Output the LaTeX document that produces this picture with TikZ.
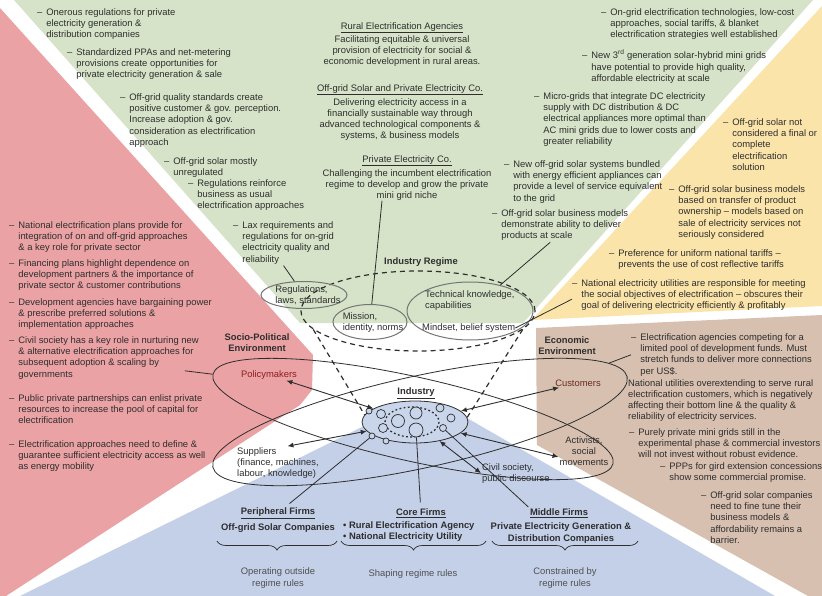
\documentclass[tikz,border=0pt]{standalone}
\usepackage{fontspec}
\setmainfont{Liberation Sans}
\usetikzlibrary{shapes.geometric,arrows.meta,decorations.pathreplacing}

\definecolor{ink}{HTML}{2E2E2E}
\definecolor{rulegray}{HTML}{505050}
\definecolor{ovalgray}{HTML}{757575}
\definecolor{greenbg}{HTML}{D6E3C8}
\definecolor{redbg}{HTML}{EBA2A4}
\definecolor{yellowbg}{HTML}{FBE4A9}
\definecolor{brownbg}{HTML}{D7C0B0}
\definecolor{bluebg}{HTML}{C4D0E8}
\definecolor{indfill}{HTML}{C9D5EB}
\definecolor{polred}{HTML}{8C1E1E}
\definecolor{cusred}{HTML}{6B2B1F}

\newcommand{\dashitem}[1]{\begin{tabular}[t]{@{}l@{\hspace{4pt}}l@{}}--&\begin{tabular}[t]{@{}l@{}}#1\end{tabular}\end{tabular}}

\begin{document}
\begin{tikzpicture}[x=1pt,y=-1pt,
    note/.style={anchor=north west,inner sep=0pt,text=ink,font=\fontsize{9.4}{11.3}\selectfont},
    desc/.style={anchor=north,inner sep=0pt,align=center,text=ink,font=\fontsize{9.4}{11.3}\selectfont},
    head/.style={inner sep=0pt,align=center,text=ink,font=\fontsize{9.4}{11.3}\selectfont\bfseries},
    actor/.style={inner sep=1pt,text=ink,font=\fontsize{9.4}{11.3}\selectfont},
    firm/.style={inner sep=0pt,text=ink,font=\fontsize{9.4}{11.3}\selectfont\bfseries},
    rule/.style={inner sep=0pt,align=center,text=rulegray,font=\fontsize{9.4}{11.3}\selectfont},
    oval/.style={ellipse,draw=ovalgray,line width=1pt,inner sep=0pt},
    big/.style={ellipse,draw=ink,line width=0.8pt,inner sep=0pt},
    dot/.style={circle,draw=ink,fill=indfill,line width=0.7pt,inner sep=0pt},
    link/.style={draw=ink,line width=0.8pt},
    biarrow/.style={{Latex[length=6pt,width=5pt]}-{Latex[length=6pt,width=5pt]},draw=ink,line width=0.9pt},
    cone/.style={draw=ink,dash pattern=on 5pt off 4pt,line width=1.2pt},
    curly/.style={draw=ink,line width=0.7pt,decorate,decoration={brace,mirror,amplitude=9pt}}]

\useasboundingbox (0,0) rectangle (822,596);
\fill[white] (0,0) rectangle (822,596);

\fill[greenbg] (14,0) -- (813,0) -- (523,323) -- (300,323) -- cycle;
\fill[redbg] (0,8) -- (313,355) -- (312,390) -- (300,405) -- (6,596) -- (0,596) -- cycle;
\fill[yellowbg] (822,6) -- (822,306) -- (532,320) -- cycle;
\fill[brownbg] (536,328) -- (822,315) -- (822,596) -- (808,596) -- (537,445) -- cycle;
\fill[bluebg] (20,596) -- (362,427) -- (415,410) -- (467,418) -- (775,596) -- cycle;

% left side
\node[note] (natp) at (9,220) {\dashitem{National electrification plans provide for\\integration of on and off-grid approaches\\\& a key role for private sector}};
\node[note] (fin) at (9,258) {\dashitem{Financing plans highlight dependence on\\development partners \& the importance of\\private sector \& customer contributions}};
\node[note] (dev) at (9,297) {\dashitem{Development agencies have bargaining power\\\& prescribe preferred solutions \&\\implementation approaches}};
\node[note] (civr) at (9,335) {\dashitem{Civil society has a key role in nurturing new\\\& alternative electrification approaches for\\subsequent adoption \& scaling by\\governments}};
\node[note] (ppp) at (9,393) {\dashitem{Public private partnerships can enlist private\\resources to increase the pool of capital for\\electrification}};
\node[note] (eapp) at (9,439) {\dashitem{Electrification approaches need to define \&\\guarantee sufficient electricity access as well\\as energy mobility}};

% regime, left steps
\node[note] (oner) at (37,7) {\dashitem{Onerous regulations for private\\electricity generation \&\\distribution companies}};
\node[note] (ppas) at (67,47) {\dashitem{Standardized PPAs and net-metering\\provisions create opportunities for\\private electricity generation \& sale}};
\node[note] (qual) at (120,92) {\dashitem{Off-grid quality standards create\\positive customer \& gov. perception.\\Increase adoption \& gov.\\consideration as electrification\\approach}};
\node[note] (unreg) at (164,156) {\dashitem{Off-grid solar mostly\\unregulated}};
\node[note] (reinf) at (188,178) {\dashitem{Regulations reinforce\\business as usual\\electrification approaches}};
\node[note] (lax) at (233,220) {\dashitem{Lax requirements and\\regulations for on-grid\\electricity quality and\\reliability}};

% regime, middle
\node[desc] (reaT) at (402,22) {\underline{Rural Electrification Agencies}};
\node[desc] (reaD) at (402,35) {Facilitating equitable \& universal\\provision of electricity for social \&\\economic development in rural areas.};
\node[desc] (ogsT) at (400,84) {\underline{Off-grid Solar and Private Electricity Co.}};
\node[desc] (ogsD) at (400,98) {Delivering electricity access in a\\financially sustainable way through\\advanced technological components \&\\systems, \& business models};
\node[desc] (pecT) at (407,155) {\underline{Private Electricity Co.}};
\node[desc] (pecD) at (407,169) {Challenging the incumbent electrification\\regime to develop and grow the private\\mini grid niche};

% regime, right steps
\node[note] (ongr) at (601,7) {\dashitem{On-grid electrification technologies, low-cost\\approaches, social tariffs, \& blanket\\electrification strategies well established}};
\node[note] (third) at (582,50) {\dashitem{New 3\textsuperscript{rd} generation solar-hybrid mini grids\\have potential to provide high quality,\\affordable electricity at scale}};
\node[note] (micro) at (534,91) {\dashitem{Micro-grids that integrate DC electricity\\supply with DC distribution \& DC\\electrical appliances more optimal than\\AC mini grids due to lower costs and\\greater reliability}};
\node[note] (bund) at (504,159) {\dashitem{New off-grid solar systems bundled\\with energy efficient appliances can\\provide a level of service equivalent\\to the grid}};
\node[note] (demo) at (492,208) {\dashitem{Off-grid solar business models\\demonstrate ability to deliver\\products at scale}};

% economic, yellow
\node[note] (notfin) at (723,117) {\dashitem{Off-grid solar not\\considered a final or\\complete\\electrification\\solution}};
\node[note] (bmod) at (669,184) {\dashitem{Off-grid solar business models\\based on transfer of product\\ownership -- models based on\\sale of electricity services not\\seriously considered}};
\node[note] (pref) at (609,248) {\dashitem{Preference for uniform national tariffs --\\prevents the use of cost reflective tariffs}};
\node[note] (natu) at (572,278) {\dashitem{National electricity utilities are responsible for meeting\\the social objectives of electrification -- obscures their\\goal of delivering electricity efficiently \& profitably}};

% economic, brown
\node[note] (agen) at (631,332) {\dashitem{Electrification agencies competing for a\\limited pool of development funds. Must\\stretch funds to deliver more connections\\per US\$.}};
\node[note,align=left] (natov) at (628,379) {National utilities overextending to serve rural\\electrification customers, which is negatively\\affecting their bottom line \& the quality \&\\reliability of electricity services.};
\node[note] (pure) at (629,427) {\dashitem{Purely private mini grids still in the\\experimental phase \& commercial investors\\will not invest without robust evidence.}};
\node[note] (ppps) at (660,461) {\dashitem{PPPs for gird extension concessions\\show some commercial promise.}};
\node[note] (ogsc) at (701,490) {\dashitem{Off-grid solar companies\\need to fine tune their\\business models \&\\affordability remains a\\barrier.}};

% environments
\node[big,rotate=-12.6,minimum width=410,minimum height=84] (elP) at (413,419) {};
\node[big,rotate=12.3,minimum width=424,minimum height=92] (elC) at (420,422) {};
\node[head,anchor=north] (socio) at (257,333) {Socio-Political\\Environment};
\node[head,anchor=north] (econ) at (567,336) {Economic\\Environment};
\node[actor,text=polred] (pol) at (269,375) {Policymakers};
\node[actor,text=cusred] (cus) at (578,383) {Customers};
\node[actor,anchor=west] (sup) at (236,452) {Suppliers};
\node[actor,anchor=north west,align=left] (supx) at (sup.south west) {(finance, machines,\\labour, knowledge)};
\node[actor,anchor=north west,align=left] (civ) at (481,462) {Civil society,\\public discourse};
\node[actor,align=center] (act) at (584,451) {Activists,\\social\\movements};

% industry regime
\node[oval,dash pattern=on 5pt off 4pt,draw=ink,line width=1.2pt,minimum width=234,minimum height=80] (rgm) at (418,311) {};
\node[oval,minimum width=86,minimum height=27] (reg) at (304,295) {};
\node[oval,minimum width=74,minimum height=35] (mis) at (370,322) {};
\node[oval,minimum width=126,minimum height=58] (tec) at (470,311) {};
\node[actor,inner sep=0pt,align=left] (regX) at (308,295) {Regulations,\\laws, standards};
\node[actor,inner sep=0pt,align=left] (misX) at (373,322.5) {Mission,\\identity, norms};
\node[actor,inner sep=0pt,align=left,anchor=north west] (tecX) at (425,290) {Technical knowledge,\\capabilities};
\node[actor,inner sep=0pt,anchor=west] (mind) at (422,328) {Mindset, belief system};
\node[head] (regT) at (421,262) {Industry Regime};

% industry
\node[ellipse,draw=ink,fill=indfill,line width=0.8pt,minimum width=106,minimum height=42,inner sep=0pt] (ind) at (415,422) {};
\draw[cone] (rgm.190) -- (ind.172);
\draw[cone] (rgm.-10) -- (ind.5);
\draw[ink,line width=1.3pt,dash pattern=on 1.8pt off 2.4pt] (412,422) ellipse [x radius=27, y radius=15];
\foreach \cx/\cy/\cr in {369/411/3, 381/414/4.5, 383/428/4.5, 398/421/6.5, 416/413/6, 440/408/4, 451/418/4, 386/441/3}
  \draw[ink,fill=indfill,line width=0.7pt] (\cx,\cy) circle [radius=\cr];
\node[dot,minimum size=6] (c1) at (372,436) {};
\node[dot,minimum size=14] (c2) at (416,430) {};
\node[dot,minimum size=7] (c3) at (443,428) {};
\node[head] (indT) at (416,393) {\underline{Industry}};

% firms
\node[firm] (perT) at (278,513) {\underline{Peripheral Firms}};
\node[firm] (perS) at (278,528) {Off-grid Solar Companies};
\node[firm] (coreT) at (421,513) {\underline{Core Firms}};
\node[firm,anchor=north west,align=left] (coreS) at (343,521) {\textbullet\ Rural Electrification Agency\\\textbullet\ National Electricity Utility};
\node[firm] (midT) at (559,513) {\underline{Middle Firms}};
\node[firm,align=center] (midS) at (561,533) {Private Electricity Generation \&\\Distribution Companies};
\coordinate (perL) at (217,541);
\coordinate (perR) at (337,541);
\coordinate (coreL) at (341,541);
\coordinate (coreR) at (486,541);
\coordinate (midL) at (492,541);
\coordinate (midR) at (638,541);
\draw[curly] (perL) -- (perR);
\draw[curly] (coreL) -- (coreR);
\draw[curly] (midL) -- (midR);
\node[rule] (perN) at (278,578) {Operating outside\\regime rules};
\node[rule] (coreN) at (413,574) {Shaping regime rules};
\node[rule] (midN) at (565,578) {Constrained by\\regime rules};

% connectors
\draw[link] (lax.south) -- (reg);
\draw[link] ([xshift=-25pt]pecD.south) -- (mis);
\draw[link] ([xshift=-10pt]demo.south) -- (tec);
\draw[link] ([yshift=-4pt]natu.west) -- (mind.east);
\draw[link] ([shift={(-14pt,-13pt)}]civr.east) -- (elP.west);
\draw[link] (agen.west) -- (elC.5);
\draw[link,shorten >=6pt] (c1) -- (perT);
\draw[link,shorten >=6pt] (c2) -- (coreT);
\draw[link,shorten >=2pt] (c3) -- (midT.north west);
\draw[biarrow] (pol) -- (ind);
\draw[biarrow] (cus) -- (ind);
\draw[biarrow,shorten <=10pt] (sup) -- (ind);
\draw[biarrow] ([yshift=-6pt]act.west) -- (ind);
\draw[biarrow] (civ.west) -- (ind);
\end{tikzpicture}
\end{document}
